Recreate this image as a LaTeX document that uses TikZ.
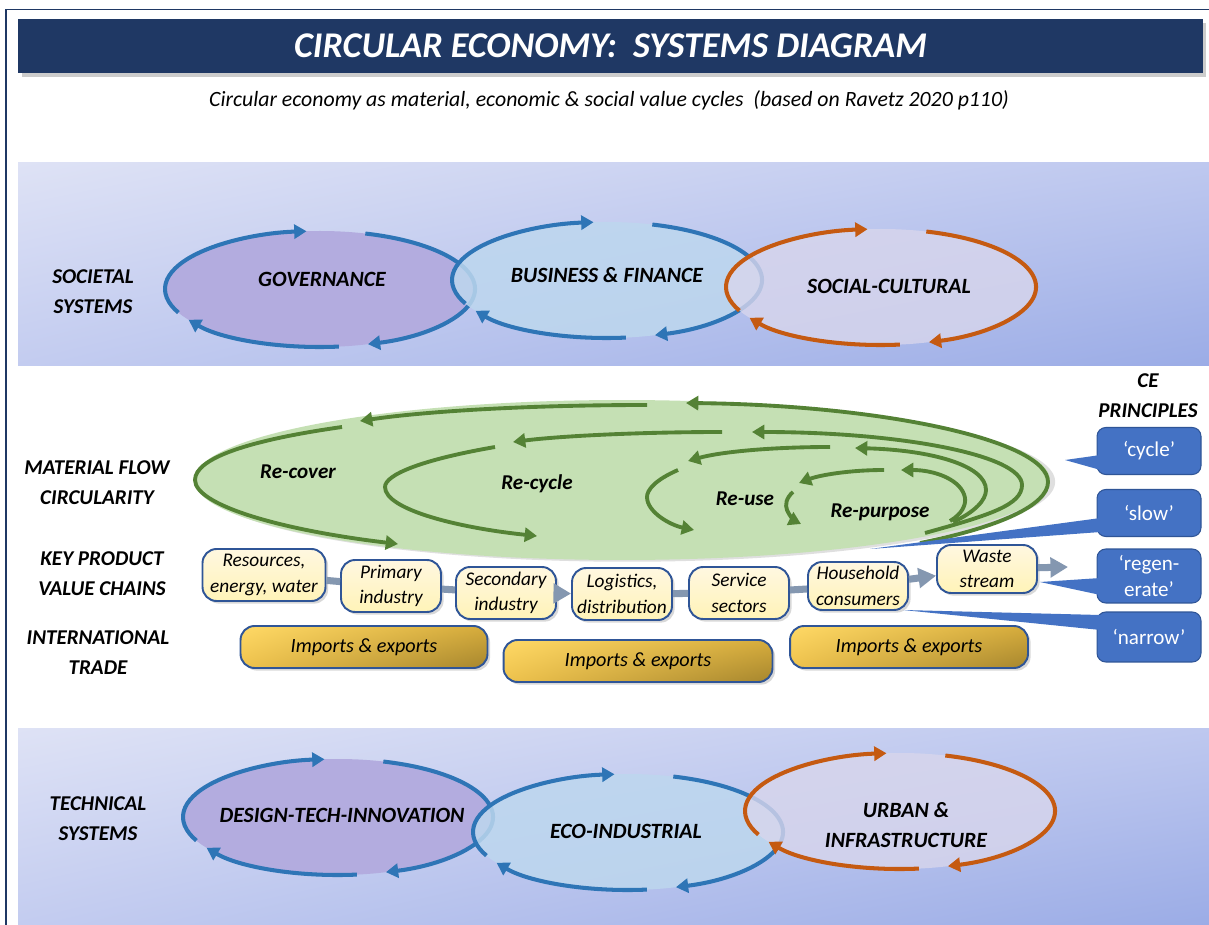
\documentclass[tikz,border=0pt]{standalone}
\usepackage{fontspec}
\setmainfont{Carlito}
\usetikzlibrary{positioning,shapes.geometric,arrows.meta,shadows,shadings}

\definecolor{navy}{HTML}{1F3864}
\definecolor{panelA}{HTML}{DEE2F5}
\definecolor{panelB}{HTML}{BEC8EF}
\definecolor{panelC}{HTML}{C3CCF0}
\definecolor{panelD}{HTML}{9BACE6}
\definecolor{govfill}{HTML}{B3ACDF}
\definecolor{busfill}{HTML}{BDD7EE}
\definecolor{socfill}{HTML}{D8D6EC}
\definecolor{ringblue}{HTML}{2E75B6}
\definecolor{ringorange}{HTML}{C55A11}
\definecolor{blobgreen}{HTML}{C5E0B4}
\definecolor{loopgreen}{HTML}{548235}
\definecolor{chainfill}{HTML}{FFF2CC}
\definecolor{chainedge}{HTML}{2F5597}
\definecolor{linkgray}{HTML}{8497B0}
\definecolor{ceblue}{HTML}{4472C4}
\definecolor{goldA}{HTML}{FFD966}
\definecolor{goldB}{HTML}{D6AC3C}
\definecolor{goldC}{HTML}{EEC24C}
\definecolor{goldD}{HTML}{A6862E}

\tikzset{
  sidelabel/.style={align=center, font=\fontsize{12}{17}\selectfont\bfseries\itshape},
  systext/.style={align=center, font=\fontsize{12.4}{17.5}\selectfont\bfseries\itshape},
  bluering/.style={draw=ringblue, line width=2.3pt, -{Triangle[length=7pt,width=8pt]}},
  orangering/.style={draw=ringorange, line width=2.3pt, -{Triangle[length=7pt,width=8pt]}},
  greenarc/.style={draw=loopgreen, line width=2.2pt, -{Triangle[length=7pt,width=8pt]}},
  looptext/.style={font=\fontsize{12}{14}\selectfont\bfseries\itshape},
  chainbox/.style={draw=chainedge, line width=1.1pt, rounded corners=8pt,
    top color=chainfill!60!white, bottom color=chainfill!90!yellow,
    minimum width=2cm, minimum height=1.04cm, inner sep=1pt, align=center,
    font=\fontsize{11}{14.5}\selectfont\itshape,
    drop shadow={opacity=0.3, shadow xshift=1.5pt, shadow yshift=-1.5pt}},
  chainlink/.style={draw=linkgray, line width=4pt},
  linkhead/.style={-{Triangle[length=10pt,width=11pt]}},
  tradebox/.style={draw=chainedge, line width=1.1pt, rounded corners=8pt,
    upper left=goldA, upper right=goldB, lower left=goldC, lower right=goldD,
    minimum height=0.84cm, inner sep=1pt,
    font=\fontsize{11.5}{14}\selectfont\itshape,
    drop shadow={opacity=0.3, shadow xshift=1.5pt, shadow yshift=-1.5pt}},
  ceprin/.style={fill=ceblue, draw=chainedge, line width=0.6pt, rounded corners=5pt,
    minimum width=2.08cm, minimum height=0.94cm, align=center, text=white,
    font=\fontsize{12}{15}\selectfont},
  banner/.style={fill=navy, text=white, minimum width=23.7cm, minimum height=1.08cm,
    font=\fontsize{20.6}{24}\selectfont\bfseries\itshape,
    drop shadow={opacity=0.4, shadow xshift=2pt, shadow yshift=-2pt}}
}

\begin{document}
\begin{tikzpicture}[x=0.02cm,y=-0.02cm]
\useasboundingbox (0,0) rectangle (1209,925);
\fill[white] (0,0) rectangle (1209,925);
\draw[navy, line width=1pt] (6,925) -- (6,9.5) -- (1209,9.5);

% title
\node[banner] (ttl) at (610.5,46) {CIRCULAR ECONOMY:\ \ SYSTEMS DIAGRAM};
\node[font=\fontsize{12.4}{14}\selectfont\itshape] (sub) at (609,100)
  {Circular economy as material, economic \& social value cycles\ \ (based on Ravetz 2020 p110)};

% panels
\shade[upper left=panelA, upper right=panelB, lower left=panelC, lower right=panelD]
  (18,163) rectangle (1209,366);
\shade[upper left=panelA, upper right=panelB, lower left=panelC, lower right=panelD]
  (18,728) rectangle (1209,925);

% societal systems
\node[sidelabel] (socsys) at (93,292) {SOCIETAL\\SYSTEMS};
\coordinate (govc) at (320,289);
\coordinate (busc) at (607,280);
\coordinate (socc) at (881,287);
\fill[govfill] (govc) ellipse [x radius=155, y radius=58];
\node[systext] (gov) at (322,279) {GOVERNANCE};
\foreach \a/\b in {156/265,287/432,83/148}
  \draw[bluering] (govc) ++(\a:155 and 58) arc[start angle=\a, end angle=\b, x radius=155, y radius=58];
\fill[busfill, opacity=0.85] (busc) ellipse [x radius=155, y radius=58];
\node[systext] (bus) at (607,275) {BUSINESS \& FINANCE};
\foreach \a/\b in {156/265,287/432,83/148}
  \draw[bluering] (busc) ++(\a:155 and 58) arc[start angle=\a, end angle=\b, x radius=155, y radius=58];
\fill[socfill, opacity=0.8] (socc) ellipse [x radius=155, y radius=58];
\node[systext] (soc) at (889,286) {SOCIAL-CULTURAL};
\foreach \a/\b in {156/265,287/432,83/148}
  \draw[orangering] (socc) ++(\a:155 and 58) arc[start angle=\a, end angle=\b, x radius=155, y radius=58];

% material flow loops
\node[sidelabel] (mfc) at (97,483) {MATERIAL FLOW\\CIRCULARITY};
\node[ellipse, fill=blobgreen, minimum width=17.12cm, minimum height=3.2cm,
  drop shadow={opacity=0.25, shadow xshift=3pt, shadow yshift=-1pt}] (blob) at (622,480) {};
\draw[greenarc] (920,543) .. controls (1000,527) and (1048,505) .. (1048,482)
  .. controls (1048,440) and (880,405) .. (686,403);
\draw[greenarc] (647,405) .. controls (520,405) and (420,412) .. (360,421);
\draw[greenarc] (342,427) .. controls (250,440) and (195,458) .. (195,480)
  .. controls (195,505) and (280,530) .. (398,544);
\draw[greenarc] (925,533) .. controls (990,515) and (1022,505) .. (1022,485)
  .. controls (1022,455) and (900,432) .. (752,432);
\draw[greenarc] (722,432) .. controls (640,432) and (560,436) .. (513,442);
\draw[greenarc] (495,447) .. controls (420,460) and (385,475) .. (385,487)
  .. controls (385,510) and (460,528) .. (537,536);
\draw[greenarc] (953,522) .. controls (975,512) and (986,500) .. (986,490)
  .. controls (986,465) and (930,450) .. (855,448);
\draw[greenarc] (830,447) .. controls (770,447) and (720,452) .. (688,461);
\draw[greenarc] (678,470) .. controls (655,480) and (647,490) .. (647,497)
  .. controls (647,512) and (670,525) .. (694,530);
\draw[greenarc] (950,521) .. controls (962,514) and (966,505) .. (965,498)
  .. controls (962,480) and (935,470) .. (901,470);
\draw[greenarc] (884,470) .. controls (850,470) and (820,475) .. (799,483);
\draw[greenarc] (793,492) .. controls (786,498) and (785,505) .. (787,510)
  .. controls (790,517) and (795,521) .. (801,524);
\node[looptext] (rcov) at (298,472) {Re-cover};
\node[looptext] (rcyc) at (537,484) {Re-cycle};
\node[looptext] (ruse) at (745,499) {Re-use};
\node[looptext] (rpur) at (880,512) {Re-purpose};

% CE principles
\node[sidelabel] (cehead) at (1148,396) {CE\\PRINCIPLES};
\node[ceprin] (cyc) at (1149,451) {‘cycle’};
\node[ceprin] (slo) at (1149,513) {‘slow’};
\node[ceprin, minimum height=1.08cm] (reg) at (1149,576) {‘regen-\\erate’};
\node[ceprin, minimum height=1cm] (nar) at (1149,637) {‘narrow’};
\coordinate (cyctip) at (1065,460);
\coordinate (slotip) at (870,549);
\coordinate (regtip) at (1040,582);
\coordinate (nartip) at (903,610);
\fill[ceblue] ([shift={(4,4)}]cyc.west) -- (cyctip) -- ([shift={(4,19)}]cyc.west) -- cycle;
\fill[ceblue] ([shift={(4,5)}]slo.west) -- (slotip) -- ([shift={(4,19)}]slo.west) -- cycle;
\fill[ceblue] ([shift={(4,2)}]reg.west) -- (regtip) -- ([shift={(4,19)}]reg.west) -- cycle;
\fill[ceblue] ([shift={(4,-22)}]nar.west) -- (nartip) -- ([shift={(4,-7)}]nar.west) -- cycle;

% value chain
\node[sidelabel] (kpv) at (102,574) {KEY PRODUCT\\VALUE CHAINS};
\node[chainbox, minimum width=2.46cm] (res) at (264,575) {Resources,\\energy, water};
\node[chainbox] (pri) at (391,586) {Primary\\industry};
\node[chainbox] (sec) at (506,593) {Secondary\\industry};
\node[chainbox] (lgs) at (622,594) {Logistics,\\distribution};
\node[chainbox] (srv) at (739,593) {Service\\sectors};
\node[chainbox, minimum height=0.96cm] (hhc) at (858,586) {Household\\consumers};
\node[chainbox, minimum height=0.96cm] (wst) at (987,569) {Waste\\stream};
\coordinate (wstout) at (1068,567);
\draw[chainlink] (res) -- (pri);
\draw[chainlink] (pri) -- (sec);
\draw[chainlink, linkhead] (sec) -- (lgs);
\draw[chainlink] (lgs) -- (srv);
\draw[chainlink] (srv) -- (hhc);
\draw[chainlink, linkhead] (hhc) -- (wst);
\draw[chainlink, linkhead] (wst) -- (wstout);

% trade
\node[sidelabel] (itr) at (98,653) {INTERNATIONAL\\TRADE};
\node[tradebox, minimum width=4.94cm] (imp1) at (364,647) {Imports \& exports};
\node[tradebox, minimum width=5.38cm] (imp2) at (638,661) {Imports \& exports};
\node[tradebox, minimum width=4.76cm] (imp3) at (909,647) {Imports \& exports};

% technical systems
\node[sidelabel] (tecsys) at (98,819) {TECHNICAL\\SYSTEMS};
\coordinate (dtic) at (338,817);
\coordinate (ecoc) at (628,832);
\coordinate (urbc) at (900,811);
\fill[govfill] (dtic) ellipse [x radius=155, y radius=58];
\node[systext] (dti) at (342,815) {DESIGN-TECH-INNOVATION};
\foreach \a/\b in {156/265,287/432,83/148}
  \draw[bluering] (dtic) ++(\a:155 and 58) arc[start angle=\a, end angle=\b, x radius=155, y radius=58];
\fill[busfill, opacity=0.85] (ecoc) ellipse [x radius=155, y radius=58];
\node[systext] (eco) at (626,831) {ECO-INDUSTRIAL};
\foreach \a/\b in {156/265,287/432,83/148}
  \draw[bluering] (ecoc) ++(\a:155 and 58) arc[start angle=\a, end angle=\b, x radius=155, y radius=58];
\fill[socfill, opacity=0.8] (urbc) ellipse [x radius=155, y radius=58];
\node[systext] (urb) at (906,825) {URBAN \&\\INFRASTRUCTURE};
\foreach \a/\b in {156/265,287/432,83/148}
  \draw[orangering] (urbc) ++(\a:155 and 58) arc[start angle=\a, end angle=\b, x radius=155, y radius=58];
\end{tikzpicture}
\end{document}
